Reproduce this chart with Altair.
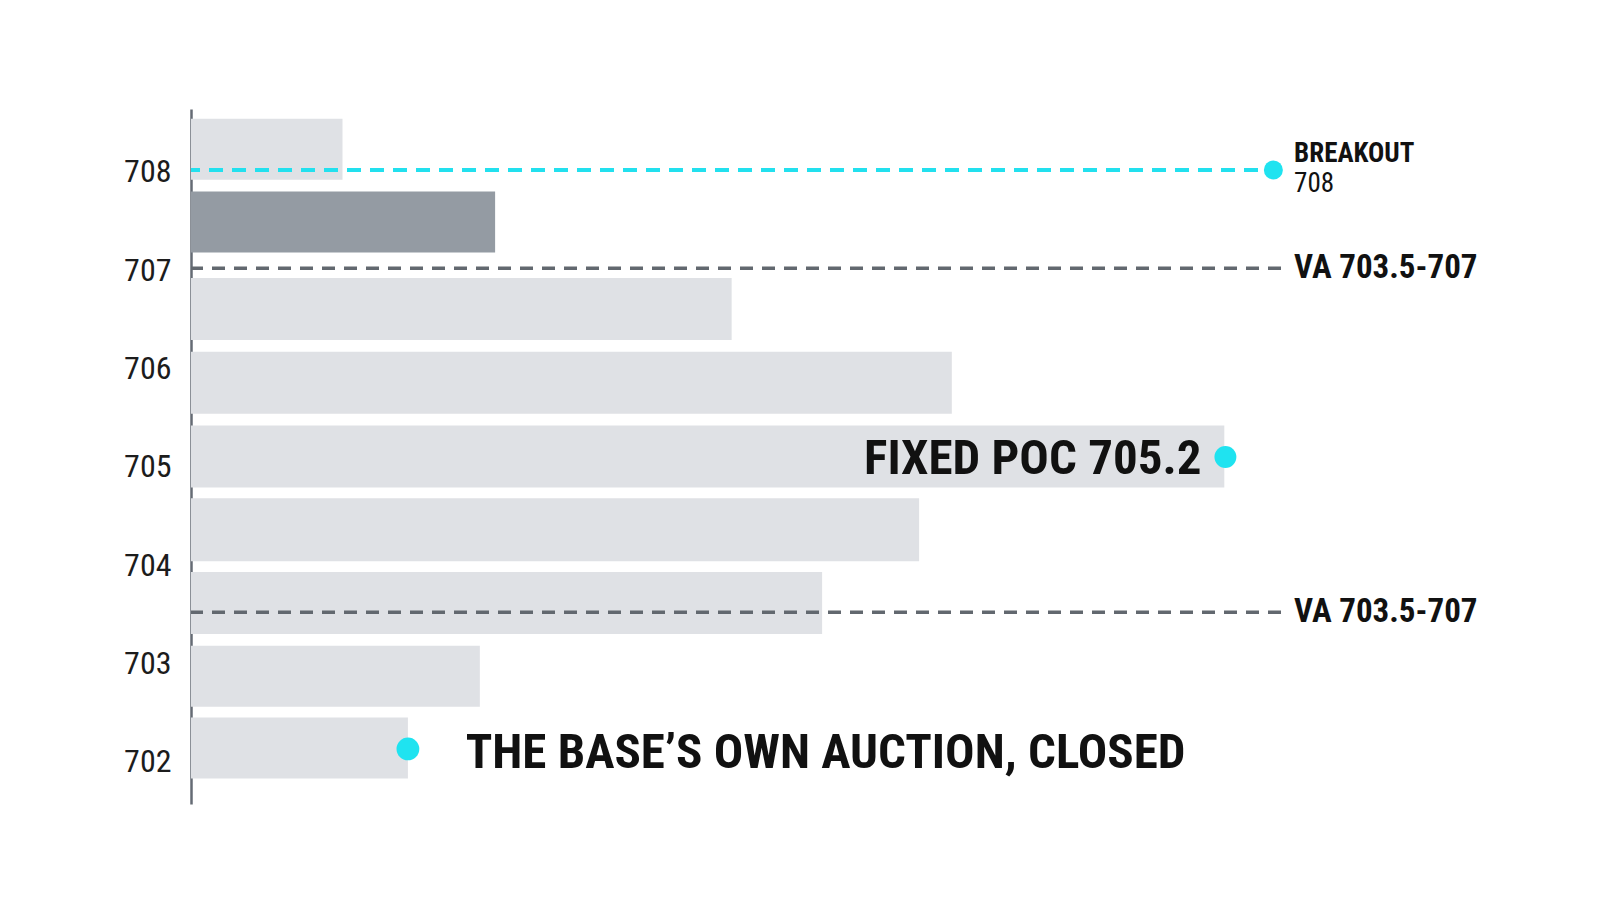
import altair as alt
import pandas as pd

# ---- data ----
bar_lo = [707.90, 707.16, 706.27, 705.52, 704.77, 704.02, 703.28, 702.54, 701.81]
bar_hi = [708.52, 707.78, 706.90, 706.15, 705.40, 704.66, 703.91, 703.16, 702.43]
volume = [13.9, 27.9, 49.6, 69.8, 94.8, 66.8, 57.9, 26.5, 19.9]
bar_kind = ["light", "dark", "light", "light", "light", "light", "light", "light", "light"]

cyan_levels = [708]
gray_levels = [707, 703.5]

dot_x = [99.3, 94.9, 19.9]
dot_y = [708.0, 705.08, 702.11]
dot_size = [360, 480, 520]

big_text = ["FIXED POC 705.2", "THE BASE\u2019S OWN AUCTION, CLOSED"]
big_x = [92.7, 25.2]
big_y = [705.06, 702.07]
big_align = ["right", "left"]

va_text = ["VA 703.5-707", "VA 703.5-707"]
va_x = [101.2, 101.2]
va_y = [707.0, 703.5]

brk_text = ["BREAKOUT", "708"]
brk_x = [101.2, 101.2]
brk_y = [708.16, 707.86]
brk_weight = ["bold", "normal"]

tick_values = [702, 703, 704, 705, 706, 707, 708]

FONT = "Roboto Condensed, Liberation Sans Narrow, DejaVu Sans Condensed, Roboto, sans-serif"

bars = pd.DataFrame({"lo": bar_lo, "hi": bar_hi, "vol": volume, "kind": bar_kind})
cyan = pd.DataFrame({"p": cyan_levels})
gray = pd.DataFrame({"p": gray_levels})
dots = pd.DataFrame({"x": dot_x, "y": dot_y, "s": dot_size})
bigs = pd.DataFrame({"t": big_text, "x": big_x, "y": big_y, "a": big_align})
vas = pd.DataFrame({"t": va_text, "x": va_x, "y": va_y})
brks = pd.DataFrame({"t": brk_text, "x": brk_x, "y": brk_y, "w": brk_weight})

xs = alt.Scale(domain=[0, 100], nice=False, zero=False)
ys = alt.Scale(domain=[701.55, 708.62], nice=False, zero=False)

yaxis = alt.Axis(values=tick_values, format="d", title=None, ticks=False, grid=False,
                 labelFontSize=32, labelColor="#1c1c1c", labelFont=FONT, labelPadding=20,
                 labelOffset=2, domainColor="#656b74", domainWidth=2.5)

bar_layer = alt.Chart(bars).mark_rect().encode(
    x=alt.X("vol:Q", scale=xs, axis=None),
    x2=alt.datum(0),
    y=alt.Y("lo:Q", scale=ys, axis=yaxis),
    y2="hi:Q",
    color=alt.Color("kind:N", scale=alt.Scale(domain=["light", "dark"], range=["#dfe1e5", "#949ba3"]), legend=None),
)

gray_rules = alt.Chart(gray).mark_rule(color="#62686f", strokeWidth=3.5, strokeDash=[13, 9]).encode(
    y=alt.Y("p:Q", scale=ys)
)
cyan_rules = alt.Chart(cyan).mark_rule(color="#22e0ee", strokeWidth=4, strokeDash=[14, 9]).encode(
    y=alt.Y("p:Q", scale=ys)
)

dot_layer = alt.Chart(dots).mark_point(filled=True, opacity=1, color="#1fe3f0", shape="circle").encode(
    x=alt.X("x:Q", scale=xs),
    y=alt.Y("y:Q", scale=ys),
    size=alt.Size("s:Q", scale=None, legend=None),
)

big_left = alt.Chart(bigs[bigs.a == "left"]).mark_text(
    align="left", baseline="middle", font=FONT, fontSize=49, fontWeight="bold", color="#111111"
).encode(x=alt.X("x:Q", scale=xs), y=alt.Y("y:Q", scale=ys), text="t:N")
big_right = alt.Chart(bigs[bigs.a == "right"]).mark_text(
    align="right", baseline="middle", font=FONT, fontSize=49, fontWeight="bold", color="#111111"
).encode(x=alt.X("x:Q", scale=xs), y=alt.Y("y:Q", scale=ys), text="t:N")

va_layer = alt.Chart(vas).mark_text(
    align="left", baseline="middle", font=FONT, fontSize=33, fontWeight="bold", color="#111111"
).encode(x=alt.X("x:Q", scale=xs), y=alt.Y("y:Q", scale=ys), text="t:N")

brk_bold = alt.Chart(brks[brks.w == "bold"]).mark_text(
    align="left", baseline="middle", font=FONT, fontSize=27, fontWeight="bold", color="#111111"
).encode(x=alt.X("x:Q", scale=xs), y=alt.Y("y:Q", scale=ys), text="t:N")
brk_norm = alt.Chart(brks[brks.w == "normal"]).mark_text(
    align="left", baseline="middle", font=FONT, fontSize=27, fontWeight="normal", color="#111111"
).encode(x=alt.X("x:Q", scale=xs), y=alt.Y("y:Q", scale=ys), text="t:N")

chart = alt.layer(
    bar_layer, gray_rules, cyan_rules, dot_layer, big_left, big_right, va_layer, brk_bold, brk_norm
).properties(
    width=1090, height=695,
    autosize=alt.AutoSizeParams(type="none"),
    padding={"left": 183, "top": 101, "right": 310, "bottom": 90},
    background="white",
).configure_view(stroke=None)

chart.save("out.html", embed_options={"renderer": "svg", "actions": False})
